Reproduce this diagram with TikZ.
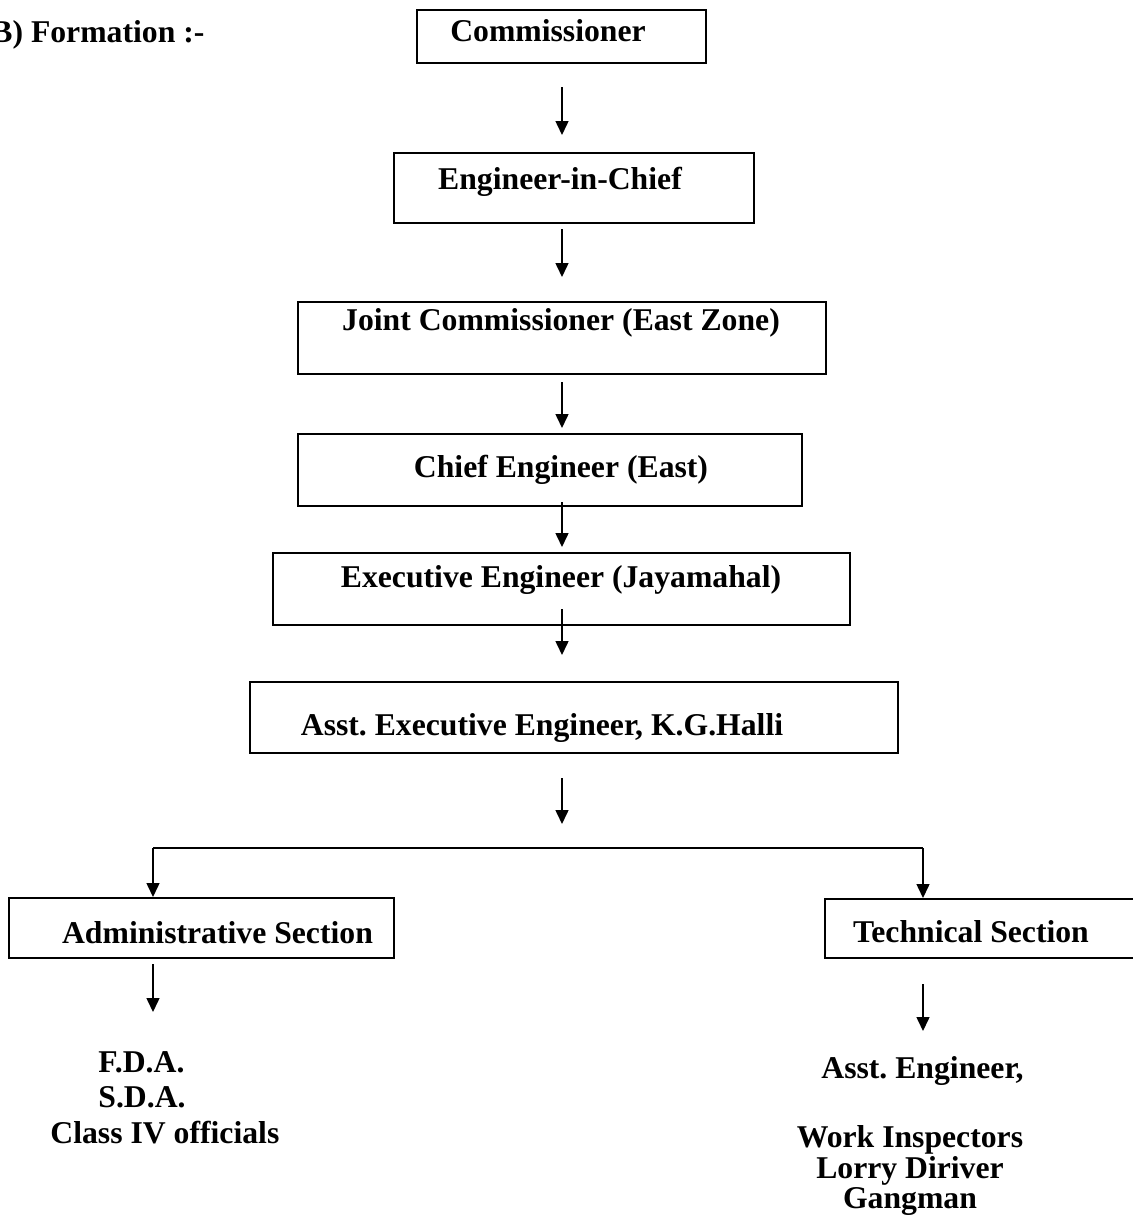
\documentclass[tikz,border=0pt]{standalone}
\usepackage{fontspec}
\setmainfont{Liberation Serif}
\usetikzlibrary{arrows.meta}
\frenchspacing

\tikzset{
  box/.style={draw, line width=1pt, inner sep=0pt},
  lbl/.style={font=\bfseries\fontsize{15.85}{18}\selectfont, inner sep=0pt, anchor=base},
  arr/.style={line width=0.75pt, -{Triangle[length=7pt,width=6.5pt]}},
}

\begin{document}
\begin{tikzpicture}[x=0.5pt,y=-0.5pt]
  \useasboundingbox (0,0) rectangle (1133,1222);
  \node[lbl, anchor=base west] (title) at (-9,42) {B) Formation :-};
  % boxes of the chain
  \node[box, minimum width=144.5pt, minimum height=26.5pt] (comm) at (561.5,36.5) {};
  \node[box, minimum width=180pt, minimum height=35pt] (eic) at (574,188) {};
  \node[box, minimum width=264pt, minimum height=36pt] (jc) at (562,338) {};
  \node[box, minimum width=252pt, minimum height=36pt] (chief) at (550,470) {};
  \node[box, minimum width=288.5pt, minimum height=36pt] (exec) at (561.5,589) {};
  \node[box, minimum width=324pt, minimum height=35.5pt] (asst) at (574,717.5) {};
  \node[box, minimum width=192.5pt, minimum height=30pt] (admin) at (201.5,928) {};
  \node[box, minimum width=167.5pt, minimum height=29.5pt] (tech) at (992.5,928.5) {};
  % texts
  \node[lbl] (commtxt) at (548,41) {Commissioner};
  \node[lbl] (eictxt) at (560,189) {Engineer-in-Chief};
  \node[lbl] (jctxt) at (561,330) {Joint Commissioner (East Zone)};
  \node[lbl] (chieftxt) at (561,477) {Chief Engineer (East)};
  \node[lbl] (exectxt) at (561,587) {Executive Engineer (Jayamahal)};
  \node[lbl] (assttxt) at (542,735) {Asst. Executive Engineer, K.G.Halli};
  \node[lbl] (admintxt) at (217.5,943) {Administrative Section};
  \node[lbl] (techtxt) at (971,942) {Technical Section};
  \node[lbl, anchor=base west, align=left,
    font=\bfseries\fontsize{15.85}{17.75}\selectfont]
    (adminstaff) at (50,1143)
    {\rule{24pt}{0pt}F.D.A.\\ \rule{24pt}{0pt}S.D.A.\\ Class IV officials};
  \node[lbl] (aeng) at (922.5,1078) {Asst. Engineer,};
  \node[lbl, align=center,
    font=\bfseries\fontsize{15.85}{13.25}\selectfont]
    (techstaff) at (910,1208)
    {Work Inspectors\\ Lorry Diriver\\ Gangman};
  % connectors
  \coordinate (ax) at (562,0);
  \coordinate (split) at (562,848);
  \coordinate (lt) at (153,848);
  \coordinate (rt) at (923,848);
  \coordinate (ae) at (153,1012);
  \coordinate (te) at (923,1031);
  \draw[arr, shorten <=11.5pt, shorten >=8.5pt] (comm.south -| ax) -- (eic.north -| ax);
  \draw[arr, shorten <=2.5pt, shorten >=12pt] (eic.south -| ax) -- (jc.north -| ax);
  \draw[arr, shorten <=3.5pt, shorten >=2.5pt] (jc.south -| ax) -- (chief.north -| ax);
  \draw[arr, shorten <=-2.5pt, shorten >=2.5pt] (chief.south -| ax) -- (exec.north -| ax);
  \draw[arr, shorten <=-8.5pt, shorten >=13pt] (exec.south -| ax) -- (asst.north -| ax);
  \draw[arr, shorten <=12pt, shorten >=12pt] (asst.south -| ax) -- (split);
  \draw[line width=1pt] (lt) -- (rt);
  \draw[arr] (lt) -- (lt |- admin.north);
  \draw[arr] (rt) -- (rt |- tech.north);
  \draw[arr, shorten <=2.5pt] (lt |- admin.south) -- (ae);
  \draw[arr, shorten <=12.5pt] (rt |- tech.south) -- (te);
\end{tikzpicture}
\end{document}
